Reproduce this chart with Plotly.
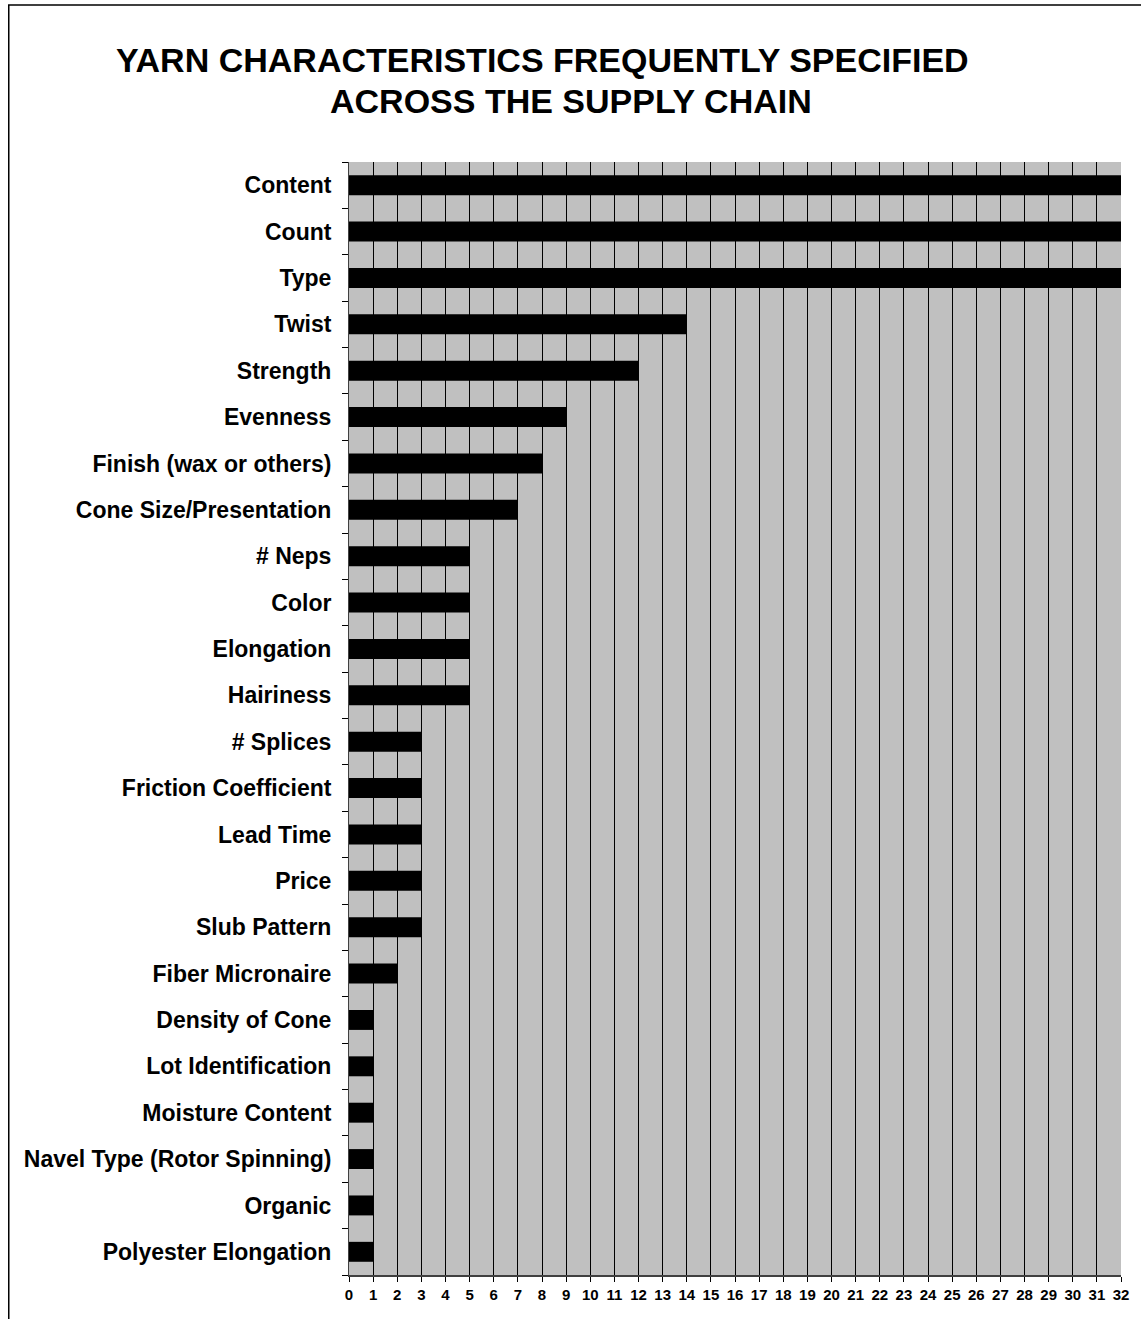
import plotly.graph_objects as go

# Yarn characteristics and how often each is specified
characteristics = [
    "Content", "Count", "Type", "Twist", "Strength", "Evenness",
    "Finish (wax or others)", "Cone Size/Presentation", "# Neps", "Color",
    "Elongation", "Hairiness", "# Splices", "Friction Coefficient",
    "Lead Time", "Price", "Slub Pattern", "Fiber Micronaire",
    "Density of Cone", "Lot Identification", "Moisture Content",
    "Navel Type (Rotor Spinning)", "Organic", "Polyester Elongation",
]
counts = [32, 32, 32, 14, 12, 9, 8, 7, 5, 5, 5, 5, 3, 3, 3, 3, 3, 2,
          1, 1, 1, 1, 1, 1]
x_ticks = list(range(0, 33))

FONT = "Liberation Sans, Arial, sans-serif"

fig = go.Figure(
    go.Bar(
        x=counts,
        y=characteristics,
        orientation="h",
        marker=dict(color="black", line=dict(width=0)),
        width=0.43,
    )
)

W, H = 1141, 1319
ML, MR, MT, MB = 349, 16, 162, 44
pw, ph = W - ML - MR, H - MT - MB

fig.update_layout(
    width=W,
    height=H,
    margin=dict(l=ML, r=MR, t=MT, b=MB),
    paper_bgcolor="white",
    plot_bgcolor="#C0C0C0",
    showlegend=False,
    font=dict(family=FONT, color="black"),
    annotations=[
        dict(
            text="<b>YARN CHARACTERISTICS FREQUENTLY SPECIFIED</b>",
            x=(544 - ML) / pw, y=1 + (162 - 60) / ph,
            xref="paper", yref="paper", showarrow=False,
            xanchor="center", yanchor="middle",
            font=dict(size=34, family=FONT, color="black"),
        ),
        dict(
            text="<b>ACROSS THE SUPPLY CHAIN</b>",
            x=(572 - ML) / pw, y=1 + (162 - 101) / ph,
            xref="paper", yref="paper", showarrow=False,
            xanchor="center", yanchor="middle",
            font=dict(size=34, family=FONT, color="black"),
        ),
    ],
    shapes=[
        dict(
            type="rect", xref="paper", yref="paper",
            x0=(7 - ML) / pw, x1=1.2,
            y0=-0.2, y1=1 + (162 - 5) / ph,
            line=dict(color="black", width=1.5),
            fillcolor="rgba(0,0,0,0)", layer="below",
        )
    ],
)

fig.update_xaxes(
    range=[0, 32],
    tickmode="array",
    tickvals=x_ticks,
    ticktext=[f"<b>{v}</b>" for v in x_ticks],
    tickfont=dict(size=15, family=FONT, color="black"),
    ticks="outside", ticklen=5, tickcolor="black", tickwidth=1,
    showgrid=True, gridcolor="black", gridwidth=1,
    showline=True, linecolor="#404040", linewidth=1.5,
    zeroline=False,
    fixedrange=True,
)

fig.update_yaxes(
    categoryorder="array",
    categoryarray=characteristics,
    autorange="reversed",
    tickmode="array",
    tickvals=characteristics,
    ticktext=[f"<b>{c}</b>" for c in characteristics],
    tickfont=dict(size=23, family=FONT, color="black"),
    ticks="outside", ticklen=6, tickcolor="black", tickwidth=1,
    tickson="boundaries",
    ticklabelstandoff=12,
    showgrid=False,
    showline=True, linecolor="#404040", linewidth=1,
    fixedrange=True,
)

fig.write_html("out.html")
